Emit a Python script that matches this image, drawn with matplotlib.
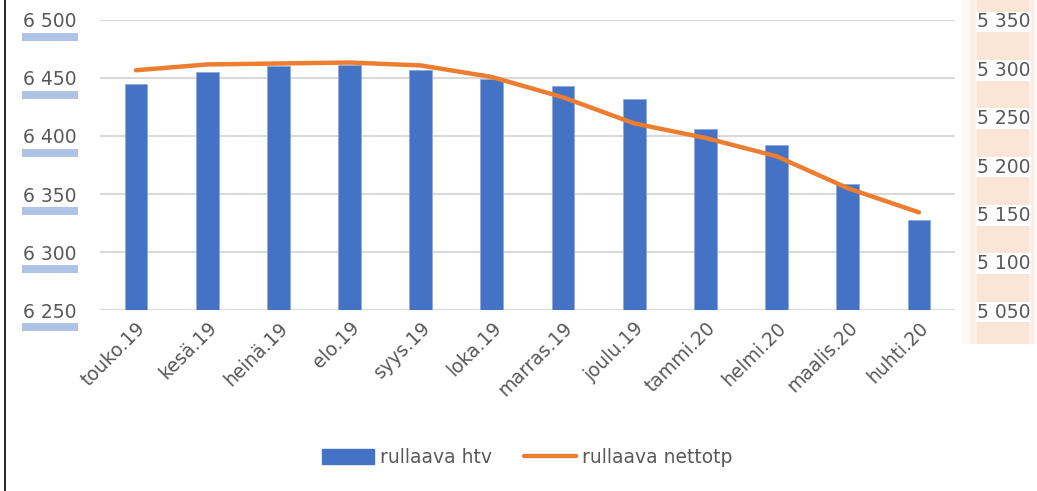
import matplotlib

matplotlib.use("Agg")
import matplotlib.pyplot as plt
import matplotlib.patheffects as pe
from matplotlib.patches import Rectangle
from matplotlib.lines import Line2D

plt.rcParams.update({
    "font.family": "sans-serif",
    "font.sans-serif": ["DejaVu Sans"],
    "text.color": "#595959",
})

BLUE = "#4472c4"
ORANGE = "#ed7d31"
GREY = "#595959"
GRID = "#d9d9d9"

months = ["touko.19", "kesä.19", "heinä.19", "elo.19", "syys.19", "loka.19",
          "marras.19", "joulu.19", "tammi.20", "helmi.20", "maalis.20", "huhti.20"]
htv = [6445, 6455, 6460, 6461, 6457, 6449, 6443, 6432, 6406, 6392, 6359, 6328]
nettotp = [5298, 5304, 5305, 5306, 5303, 5291, 5270, 5243, 5228, 5209, 5176, 5151]
left_ticks = [6250, 6300, 6350, 6400, 6450, 6500]
right_ticks = [5050, 5100, 5150, 5200, 5250, 5300, 5350]

fig = plt.figure(figsize=(10.37, 4.91), dpi=100)

# soft orange band behind the right-hand labels
for x0, w, a in [(0.928, 0.072, 0.08), (0.935, 0.062, 0.12), (0.942, 0.05, 0.16)]:
    fig.add_artist(Rectangle((x0, 0.3), w, 0.70, transform=fig.transFigure,
                             facecolor="#f4b183", alpha=a, lw=0, zorder=-5))
# frame line on the left edge
fig.add_artist(Line2D([0.005, 0.005], [0, 1], transform=fig.transFigure,
                      color="black", lw=1.2))

ax = fig.add_axes([0.0968, 0.3686, 0.8237, 0.5907])
ax.set_facecolor("none")
x = range(len(months))
ax.bar(x, htv, width=0.32, color=BLUE, edgecolor="#8faadc", lw=0.6, zorder=2)
ax.set_ylim(6250, 6500)
ax.set_xlim(-0.5, len(months) - 0.5)
ax.set_yticks(left_ticks)
ax.set_yticklabels([f"{v:,}".replace(",", " ") for v in left_ticks])
ax.yaxis.grid(True, color=GRID, lw=1.5, zorder=0)
ax.set_axisbelow(True)
ax.tick_params(axis="y", length=0, pad=17, labelsize=13.5, labelcolor=GREY)
ax.tick_params(axis="x", length=0, pad=6, labelsize=13.5, labelcolor=GREY)
ax.set_xticks(list(x))
ax.set_xticklabels(months, rotation=45, ha="right", rotation_mode="anchor")
for s in ax.spines.values():
    s.set_visible(False)

# white label boxes with a blue glow beneath (left axis)
for t in ax.get_yticklabels():
    t.set_bbox(dict(facecolor="white", edgecolor="none", pad=0.8))
    t.get_bbox_patch().set_path_effects([
        pe.SimplePatchShadow(offset=(0, -6), shadow_rgbFace="#9db4e0", alpha=0.8),
        pe.Normal()])

ax2 = ax.twinx()
ax2.plot(x, nettotp, color=ORANGE, lw=3.2, solid_capstyle="round",
         solid_joinstyle="round", zorder=3)
ax2.set_ylim(5050, 5350)
ax2.set_yticks(right_ticks)
ax2.set_yticklabels([f"{v:,}".replace(",", " ") for v in right_ticks])
ax2.tick_params(axis="y", length=0, pad=16, labelsize=13.5, labelcolor=GREY)
for s in ax2.spines.values():
    s.set_visible(False)
for t in ax2.get_yticklabels():
    t.set_bbox(dict(facecolor="white", edgecolor="none", pad=0.5))

handles = [Rectangle((0, 0), 1, 1, color=BLUE),
           Line2D([0], [0], color=ORANGE, lw=3.2, solid_capstyle="round")]
fig.legend(handles, ["rullaava htv", "rullaava nettotp"], loc="center",
           bbox_to_anchor=(0.508, 0.068), ncol=2, frameon=False, fontsize=13.5,
           handlelength=2.8, handleheight=0.9, columnspacing=1.7, handletextpad=0.3)

fig.savefig("out.png", dpi=100)
